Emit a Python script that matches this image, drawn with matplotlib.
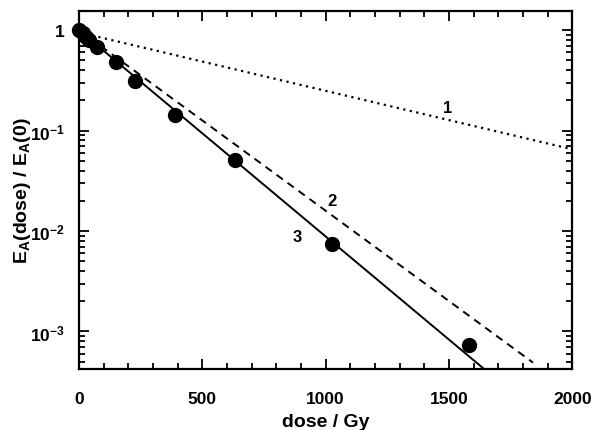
import matplotlib
matplotlib.use("Agg")
import matplotlib.pyplot as plt
from matplotlib.ticker import FixedLocator, FixedFormatter, LogLocator, MultipleLocator, NullFormatter

# measured points
dose = [0, 15, 30, 40, 74, 150, 229, 390, 631, 1028, 1581]
ratio = [1.0, 0.93, 0.86, 0.80, 0.68, 0.48, 0.31, 0.143, 0.051, 0.0074, 0.00074]

# fitted lines (end points)
line1_dose = [0, 2000]
line1_val = [0.95, 0.065]
line2_dose = [0, 1841]
line2_val = [1.0, 0.00049]
line3_dose = [0, 1660]
line3_val = [1.0, 0.00039]

labels = ["1", "2", "3"]
label_pos = [(1496, 0.171), (1028, 0.020), (886, 0.0089)]

ytick_vals = [1, 1e-1, 1e-2, 1e-3]
ytick_text = ["1", r"10$^{-1}$", r"10$^{-2}$", r"10$^{-3}$"]

plt.rcParams["font.family"] = ["Liberation Sans", "DejaVu Sans"]
plt.rcParams["font.weight"] = "bold"
plt.rcParams["mathtext.fontset"] = "custom"
plt.rcParams["mathtext.rm"] = "Liberation Sans:bold"
plt.rcParams["mathtext.it"] = "Liberation Sans:bold"
plt.rcParams["mathtext.bf"] = "Liberation Sans:bold"

fig = plt.figure(figsize=(5.93, 4.31), dpi=100)
ax = fig.add_axes([0.133, 0.1415, 0.832, 0.8305])

ax.plot(line1_dose, line1_val, color="black", linewidth=1.6, linestyle=(0, (1, 2)))
ax.plot(line2_dose, line2_val, color="black", linewidth=1.4, linestyle=(0, (4, 3)))
ax.plot(line3_dose, line3_val, color="black", linewidth=1.4)
ax.plot(dose, ratio, "o", color="black", markersize=10, clip_on=False, zorder=5)

for lab, (px, py) in zip(labels, label_pos):
    ax.text(px, py, lab, fontsize=12, fontweight="bold", ha="center", va="center")

ax.set_yscale("log")
ax.set_xlim(0, 2000)
ax.set_ylim(4.23e-4, 1.545)

ax.xaxis.set_major_locator(MultipleLocator(500))
ax.xaxis.set_minor_locator(MultipleLocator(100))
ax.yaxis.set_major_locator(FixedLocator(ytick_vals))
ax.yaxis.set_major_formatter(FixedFormatter(ytick_text))
ax.yaxis.set_minor_locator(LogLocator(base=10, subs=range(2, 10)))
ax.yaxis.set_minor_formatter(NullFormatter())

ax.tick_params(which="both", direction="in", top=True, right=True, width=1.3)
ax.tick_params(which="major", length=7, labelsize=12.5)
ax.tick_params(axis="x", which="major", pad=16)
ax.tick_params(axis="y", which="major", pad=10)
ax.tick_params(which="minor", length=4)
for spine in ax.spines.values():
    spine.set_linewidth(1.6)

ax.set_xlabel("dose / Gy", fontsize=14, fontweight="bold")
ax.set_ylabel(r"E$_{A}$(dose) / E$_{A}$(0)", fontsize=14, fontweight="bold")
ax.xaxis.set_label_coords(0.5, -0.122)
ax.yaxis.set_label_coords(-0.093, 0.5)

fig.savefig("out.png", dpi=100)
